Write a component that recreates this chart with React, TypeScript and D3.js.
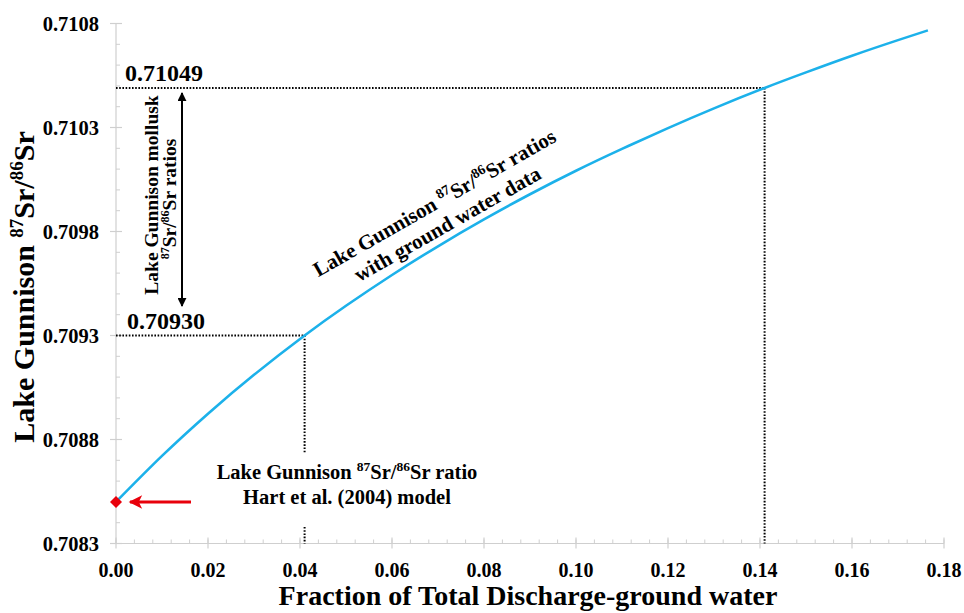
import React from "react";
import * as d3 from "d3";

const fractions = [0, 0.01, 0.02, 0.03, 0.041, 0.05, 0.06, 0.07, 0.08, 0.09, 0.10, 0.11, 0.12, 0.13, 0.141, 0.15, 0.16, 0.17, 0.1765];
const ratios = [0.7085, 0.708721, 0.708924, 0.709111, 0.7093, 0.709443, 0.709591, 0.709729, 0.709858, 0.709979, 0.710092, 0.710197, 0.710297, 0.710392, 0.71049, 0.710565, 0.710645, 0.71072, 0.710767];
const xTicks = [0, 0.02, 0.04, 0.06, 0.08, 0.1, 0.12, 0.14, 0.16, 0.18];
const yTicks = [0.7083, 0.7088, 0.7093, 0.7098, 0.7103, 0.7108];
const molluskRange = [0.7093, 0.71049];
const molluskFractions = [0.041, 0.141];
const modelPoint = { f: 0, r: 0.7085 };

const W = 964, H = 613;
const FONT = "'Liberation Serif', 'Times New Roman', serif";

export default function App() {
  const x = d3.scaleLinear().domain([0, 0.18]).range([116, 944]);
  const y = d3.scaleLinear().domain([0.7083, 0.7108]).range([543.5, 23.5]);
  const line = d3.line<number>().x((_, i) => x(fractions[i])).y((d) => y(d)).curve(d3.curveNatural);
  const axisColor = "#cfcfcf";
  const xMinor = d3.range(0, 46).map((i) => i * 0.004);
  const yMinor = d3.range(0, 26).map((i) => 0.7083 + i * 0.0001);
  const dot = "1.6,1.6";
  const [lo, hi] = molluskRange;
  const [fLo, fHi] = molluskFractions;
  const dy = y(modelPoint.r);
  const dx = x(modelPoint.f);
  const s = 6;
  return (
    <svg width={W} height={H} style={{ position: "absolute", left: 0, top: 0, background: "#fff" }} fontFamily={FONT}>
      <defs>
        <marker id="ah" viewBox="0 0 10 10" refX="9" refY="5" markerWidth="4.5" markerHeight="4.5" orient="auto-start-reverse">
          <path d="M0,0 L10,5 L0,10 z" fill="#000" />
        </marker>
        <marker id="rah" viewBox="0 0 10 10" refX="9" refY="5" markerWidth="5" markerHeight="4.5" orient="auto">
          <path d="M0,0 L10,5 L0,10 L2.5,5 z" fill="#e8000b" />
        </marker>
      </defs>
      {/* axes */}
      <line x1={x(0)} x2={x(0.18)} y1={y(0.7083)} y2={y(0.7083)} stroke={axisColor} strokeWidth={1.2} />
      <line x1={x(0)} x2={x(0)} y1={y(0.7083)} y2={y(0.7108)} stroke={axisColor} strokeWidth={1.2} />
      {xMinor.map((t, i) => (
        <line key={"xm" + i} x1={x(t)} x2={x(t)} y1={y(0.7083) - 4} y2={y(0.7083)} stroke={axisColor} strokeWidth={1} />
      ))}
      {yMinor.map((t, i) => (
        <line key={"ym" + i} x1={x(0)} x2={x(0) + 4} y1={y(t)} y2={y(t)} stroke={axisColor} strokeWidth={1} />
      ))}
      {xTicks.map((t) => (
        <g key={"xt" + t}>
          <line x1={x(t)} x2={x(t)} y1={y(0.7083) - 6} y2={y(0.7083) + 5} stroke={axisColor} strokeWidth={1.2} />
          <text x={x(t)} y={577} textAnchor="middle" fontSize={20} fontWeight="bold">{t.toFixed(2)}</text>
        </g>
      ))}
      {yTicks.map((t) => (
        <g key={"yt" + t}>
          <line x1={x(0) - 6} x2={x(0) + 6} y1={y(t)} y2={y(t)} stroke={axisColor} strokeWidth={1.2} />
          <text x={99} y={y(t) + 7.5} textAnchor="end" fontSize={20.5} fontWeight="bold">{t.toFixed(4)}</text>
        </g>
      ))}
      {/* titles */}
      <text x={528} y={605} textAnchor="middle" fontSize={28} fontWeight="bold">Fraction of Total Discharge-ground water</text>
      <text transform="translate(34,287) rotate(-90)" textAnchor="middle" fontSize={30} fontWeight="bold">
        Lake Gunnison <tspan fontSize={19} dy={-11}>87</tspan><tspan dy={11}>Sr/</tspan><tspan fontSize={19} dy={-11}>86</tspan><tspan dy={11}>Sr</tspan>
      </text>
      {/* dotted guides */}
      <line x1={x(0)} x2={x(fHi)} y1={y(hi)} y2={y(hi)} stroke="#000" strokeWidth={2} strokeDasharray={dot} />
      <line x1={x(0)} x2={x(fLo)} y1={y(lo)} y2={y(lo)} stroke="#000" strokeWidth={2} strokeDasharray={dot} />
      <line x1={x(fHi)} x2={x(fHi)} y1={y(hi)} y2={y(0.7083)} stroke="#000" strokeWidth={2} strokeDasharray={dot} />
      <line x1={x(fLo)} x2={x(fLo)} y1={y(lo)} y2={453} stroke="#000" strokeWidth={2} strokeDasharray={dot} />
      <line x1={x(fLo)} x2={x(fLo)} y1={527} y2={y(0.7083)} stroke="#000" strokeWidth={2} strokeDasharray={dot} />
      {/* curve */}
      <path d={line(ratios) || ""} fill="none" stroke="#1cb1ea" strokeWidth={2.6} />
      {/* value labels */}
      <text x={125} y={y(hi) - 7} fontSize={24} fontWeight="bold">{hi.toFixed(5)}</text>
      <text x={127} y={y(lo) - 7} fontSize={24} fontWeight="bold">{lo.toFixed(5)}</text>
      {/* double arrow */}
      <line x1={182} x2={182} y1={y(hi) + 5} y2={306} stroke="#000" strokeWidth={2} markerStart="url(#ah)" markerEnd="url(#ah)" />
      <text transform="translate(158,195) rotate(-90)" textAnchor="middle" fontSize={19.5} fontWeight="bold">Lake Gunnison mollusk</text>
      <text transform="translate(176,199) rotate(-90)" textAnchor="middle" fontSize={19.5} fontWeight="bold">
        <tspan fontSize={12} dy={-7}>87</tspan><tspan dy={7}>Sr/</tspan><tspan fontSize={12} dy={-7}>86</tspan><tspan dy={7}>Sr ratios</tspan>
      </text>
      {/* curve label */}
      <text transform="translate(438,209) rotate(-29.7)" textAnchor="middle" fontSize={21} fontWeight="bold">
        Lake Gunnison <tspan fontSize={14} dy={-8}>87</tspan><tspan dy={8}>Sr/</tspan><tspan fontSize={14} dy={-8}>86</tspan><tspan dy={8}>Sr ratios</tspan>
      </text>
      <text transform="translate(451,230) rotate(-29.7)" textAnchor="middle" fontSize={21} fontWeight="bold">with ground water data</text>
      {/* model label */}
      <text x={347} y={479} textAnchor="middle" fontSize={20.5} fontWeight="bold">
        Lake Gunnison <tspan fontSize={13.5} dy={-8}>87</tspan><tspan dy={8}>Sr/</tspan><tspan fontSize={13.5} dy={-8}>86</tspan><tspan dy={8}>Sr ratio</tspan>
      </text>
      <text x={347} y={504} textAnchor="middle" fontSize={20.5} fontWeight="bold">Hart et al. (2004) model</text>
      {/* red marker and arrow */}
      <line x1={191} x2={130} y1={dy} y2={dy} stroke="#e8000b" strokeWidth={3} markerEnd="url(#rah)" />
      <path d={`M${dx - s},${dy} L${dx},${dy - s} L${dx + s},${dy} L${dx},${dy + s} Z`} fill="#e8000b" />
    </svg>
  );
}
